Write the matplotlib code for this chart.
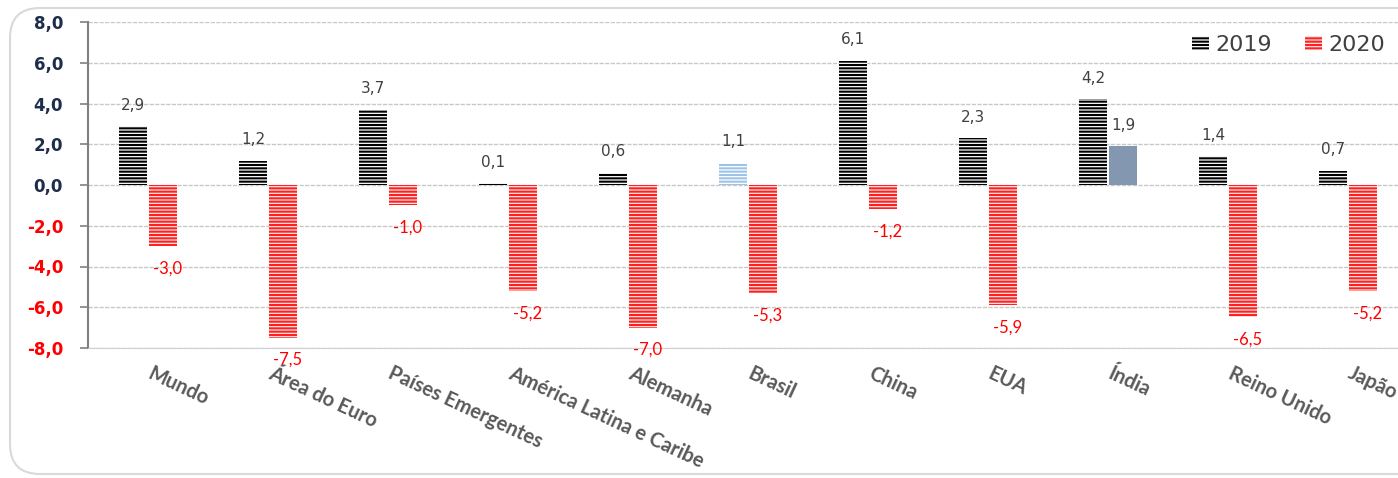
import matplotlib.pyplot as plt
import numpy as np
from matplotlib.patches import Patch, FancyBboxPatch

categories = ['Mundo', 'Área do Euro', 'Países Emergentes', 'América Latina e Caribe',
              'Alemanha', 'Brasil', 'China', 'EUA', 'Índia', 'Reino Unido', 'Japão']
v2019 = [2.9, 1.2, 3.7, 0.1, 0.6, 1.1, 6.1, 2.3, 4.2, 1.4, 0.7]
v2020 = [-3.0, -7.5, -1.0, -5.2, -7.0, -5.3, -1.2, -5.9, 1.9, -6.5, -5.2]
labels2019 = ['2,9', '1,2', '3,7', '0,1', '0,6', '1,1', '6,1', '2,3', '4,2', '1,4', '0,7']
labels2020 = ['-3,0', '-7,5', '-1,0', '-5,2', '-7,0', '-5,3', '-1,2', '-5,9', '1,9', '-6,5', '-5,2']
yticks = [-8, -6, -4, -2, 0, 2, 4, 6, 8]
yticklabels = ['-8,0', '-6,0', '-4,0', '-2,0', '0,0', '2,0', '4,0', '6,0', '8,0']

plt.rcParams['hatch.linewidth'] = 1.5

W, H = 1398, 478
fig = plt.figure(figsize=(W / 100, H / 100), dpi=100)

# rounded chart-area border (Excel style)
frame = FancyBboxPatch((0.10, 0.04), 14.5, 4.66, boxstyle='round,pad=0,rounding_size=0.3',
                       transform=fig.dpi_scale_trans, facecolor='none',
                       edgecolor='#d9d9d9', linewidth=1.5, zorder=-1)
fig.patches.append(frame)

ax = fig.add_axes([88 / W, 1 - 348 / H, 1320 / W, 326 / H])
ax.patch.set_alpha(0)

x = np.arange(len(categories))
bw = 0.233
off = 0.125

for i in range(len(categories)):
    if categories[i] == 'Brasil':
        ax.bar(x[i] - off, v2019[i], bw, facecolor='white', edgecolor='#9dc3e6',
               hatch='-----', linewidth=0, zorder=3)
    else:
        ax.bar(x[i] - off, v2019[i], bw, facecolor='white', edgecolor='black',
               hatch='-----', linewidth=0, zorder=3)
    if categories[i] == 'Índia':
        ax.bar(x[i] + off, v2020[i], bw, color='#8497b0', linewidth=0, zorder=3)
    else:
        ax.bar(x[i] + off, v2020[i], bw, facecolor='#ffe5e5', edgecolor='#ff2020',
               hatch='-----', linewidth=0, zorder=3)

for i in range(len(categories)):
    ax.annotate(labels2019[i], (x[i] - off, v2019[i]), xytext=(0, 15),
                textcoords='offset points', ha='center', va='center',
                fontsize=11, color='#404040', family='DejaVu Sans')
    if v2020[i] >= 0:
        ax.annotate(labels2020[i], (x[i] + off, v2020[i]), xytext=(0, 15),
                    textcoords='offset points', ha='center', va='center',
                    fontsize=11, color='#404040', family='DejaVu Sans')
    else:
        ax.annotate(labels2020[i], (x[i] + off, v2020[i]), xytext=(3, -16),
                    textcoords='offset points', ha='center', va='center',
                    fontsize=12, color='#ff0000', family='Lato')

ax.set_xlim(-0.5, len(categories) - 0.5)
ax.set_ylim(-8, 8)
ax.set_yticks(yticks)
ax.set_yticklabels(yticklabels, fontsize=12, fontweight='bold', family='DejaVu Sans')
for t, v in zip(ax.get_yticklabels(), yticks):
    t.set_color('#ff0000' if v < 0 else '#1f2d4d')
ax.tick_params(axis='y', length=6, width=1.2, color='#808080', pad=12)

ax.set_xticks(x)
ax.set_xticklabels([])
ax.tick_params(axis='x', length=0)
for i, c in enumerate(categories):
    ax.annotate(c, (x[i], -8), xytext=(4, -11), textcoords='offset points',
                rotation=-25, rotation_mode='anchor', ha='left', va='top',
                fontsize=14.5, fontweight='bold', color='#595959', family='Lato',
                annotation_clip=False)

ax.grid(axis='y', color='#c8c8c8', linestyle=(0, (3, 1)), linewidth=1, zorder=0)
for s in ['top', 'right']:
    ax.spines[s].set_visible(False)
ax.spines['bottom'].set_color('#d0d0d0')
ax.spines['left'].set_color('#808080')
ax.spines['left'].set_linewidth(1.5)

handles = [Patch(facecolor='white', edgecolor='black', hatch='-----', linewidth=0, label='2019'),
           Patch(facecolor='#ffe5e5', edgecolor='#ff2020', hatch='-----', linewidth=0, label='2020')]
leg = fig.legend(handles=handles, loc='center left', bbox_to_anchor=(1172 / W, 1 - 45 / H),
                 ncol=2, frameon=False, fontsize=16, handlelength=0.75, handleheight=0.6,
                 handletextpad=0.3, columnspacing=1.5)
for t in leg.get_texts():
    t.set_color('#404040')

fig.savefig('out.png', dpi=100)
